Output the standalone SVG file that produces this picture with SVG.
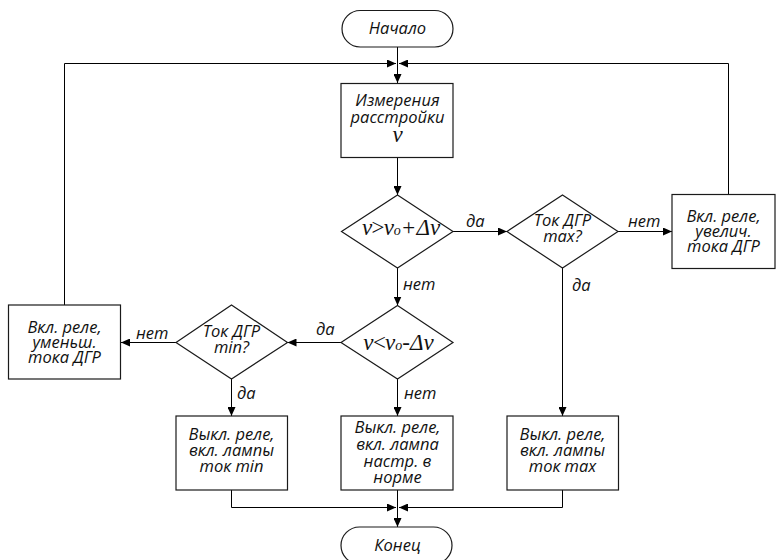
<svg xmlns="http://www.w3.org/2000/svg" width="777" height="560" viewBox="0 0 777 560">
<defs>
<marker id="ar" markerWidth="9" markerHeight="8" refX="9" refY="4" orient="auto" markerUnits="userSpaceOnUse">
<path d="M0,0 L9,4 L0,8 Z" fill="#000"/>
</marker>
<style>
.s{fill:#fff;stroke:#1a1a1a;stroke-width:1.2}
.t{font-family:"Open Sans","Noto Sans",sans-serif;font-style:italic;font-size:16.5px;fill:#111;text-anchor:middle}
.l{font-family:"Open Sans","Noto Sans",sans-serif;font-style:italic;font-size:16.5px;fill:#111}
.m{font-family:"Liberation Serif","DejaVu Serif",serif;font-style:italic;font-size:23px;fill:#111;text-anchor:middle}
.c{fill:none;stroke:#000;stroke-width:1}
.a{marker-end:url(#ar)}
</style>
</defs>
<rect width="777" height="560" fill="#fff"/>
<g id="connectors">
<path class="c a" d="M397.5,47 V83"/>
<path class="c a" d="M64.5,305 V63.5 H396"/>
<path class="c a" d="M728.5,194 V63.5 H399"/>
<path class="c a" d="M397.5,157 V195"/>
<path class="c a" d="M453,231.5 H507"/>
<path class="c a" d="M618,231.5 H672"/>
<path class="c a" d="M562.5,268 V416"/>
<path class="c a" d="M397.5,268 V305.5"/>
<path class="c a" d="M341,342.5 H287.5"/>
<path class="c a" d="M176,342.5 H121"/>
<path class="c a" d="M231.5,379 V416"/>
<path class="c a" d="M397.5,379 V416"/>
<path class="c a" d="M231.5,490 V507.5 H396"/>
<path class="c a" d="M562.5,490 V507.5 H399"/>
<path class="c a" d="M397.5,490 V527"/>
<text class="l" x="466" y="227">да</text>
<text class="l" x="628" y="227">нет</text>
<text class="l" x="403" y="290">нет</text>
<text class="l" x="572" y="291">да</text>
<text class="l" x="316" y="335">да</text>
<text class="l" x="136" y="339">нет</text>
<text class="l" x="237" y="399">да</text>
<text class="l" x="404" y="399">нет</text>
</g>
<g id="start">
<rect class="s" x="342" y="10.5" width="111" height="36.5" rx="18.25"/>
<text class="t" x="397.5" y="34">Начало</text>
</g>
<g id="measure">
<rect class="s" x="341" y="83.5" width="112" height="74"/>
<text class="t"><tspan x="397.5" y="106">Измерения</tspan><tspan x="397.5" y="123">расстройки</tspan></text>
<text class="m" x="397.5" y="142">ν</text>
</g>
<g id="cond1">
<polygon class="s" points="397.5,195 453,231.5 397.5,268 341.5,231.5"/>
<text class="m" x="401" y="235">ν<tspan dx="-2">&gt;</tspan><tspan dx="-2">ν</tspan><tspan font-size="14">o</tspan>+Δν</text>
</g>
<g id="cond-max">
<polygon class="s" points="562.5,195 618,231.5 562.5,268 507,231.5"/>
<text class="t"><tspan x="562.5" y="226">Ток ДГР</tspan><tspan x="562.5" y="242">max?</tspan></text>
</g>
<g id="inc">
<rect class="s" x="672" y="194.5" width="103" height="74"/>
<text class="t"><tspan x="723.5" y="221.5">Вкл. реле,</tspan><tspan x="723.5" y="236.5">увелич.</tspan><tspan x="723.5" y="251.5">тока ДГР</tspan></text>
</g>
<g id="cond2">
<polygon class="s" points="397.5,305.5 453,342.5 397.5,379 341,342.5"/>
<text class="m" x="398.5" y="350">ν<tspan dx="-2">&lt;</tspan><tspan dx="-2">ν</tspan><tspan font-size="14">o</tspan>-Δν</text>
</g>
<g id="cond-min">
<polygon class="s" points="231.5,305 287.5,342.5 231.5,379 176,342.5"/>
<text class="t"><tspan x="231.5" y="337">Ток ДГР</tspan><tspan x="231.5" y="353">min?</tspan></text>
</g>
<g id="dec">
<rect class="s" x="8.5" y="305" width="112" height="74"/>
<text class="t"><tspan x="64.5" y="333">Вкл. реле,</tspan><tspan x="64.5" y="348">уменьш.</tspan><tspan x="64.5" y="363">тока ДГР</tspan></text>
</g>
<g id="off-min">
<rect class="s" x="176" y="416" width="111.5" height="74"/>
<text class="t"><tspan x="231.5" y="440">Выкл. реле,</tspan><tspan x="231.5" y="456">вкл. лампы</tspan><tspan x="231.5" y="472">ток min</tspan></text>
</g>
<g id="off-norm">
<rect class="s" x="341" y="416" width="112" height="74"/>
<text class="t"><tspan x="397.5" y="433">Выкл. реле,</tspan><tspan x="397.5" y="450">вкл. лампа</tspan><tspan x="397.5" y="466.5">настр. в</tspan><tspan x="397.5" y="483">норме</tspan></text>
</g>
<g id="off-max">
<rect class="s" x="507" y="416" width="111.5" height="74"/>
<text class="t"><tspan x="562.5" y="440">Выкл. реле,</tspan><tspan x="562.5" y="456">вкл. лампы</tspan><tspan x="562.5" y="472">ток max</tspan></text>
</g>
<g id="end">
<rect class="s" x="341" y="527" width="111" height="37" rx="18.5"/>
<text class="t" x="397.5" y="551">Конец</text>
</g>
</svg>
